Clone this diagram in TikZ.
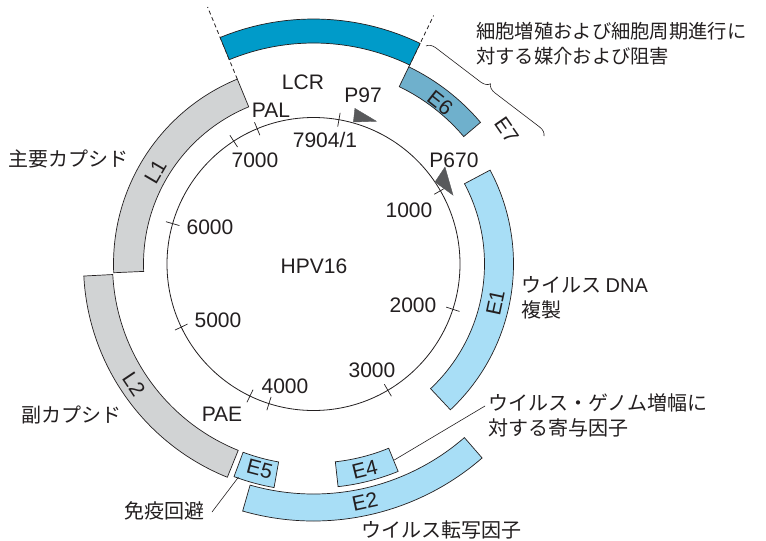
\documentclass[tikz,border=0pt]{standalone}
\usepackage{fontspec}
\setmainfont{Liberation Sans}
\newfontfamily\jp{Noto Sans CJK JP}
\usetikzlibrary{decorations.pathreplacing}
\definecolor{lcrblue}{RGB}{0,155,201}
\definecolor{esix}{RGB}{111,176,204}
\definecolor{lblue}{RGB}{168,222,246}
\definecolor{lgray}{RGB}{209,211,212}
\definecolor{tri}{RGB}{88,89,91}
\definecolor{ink}{RGB}{35,31,32}
\newcommand\genearc[5]{%
  \draw[#5] (#1:#3pt) arc[start angle=#1, end angle=#2, radius=#3pt]
    -- (#2:#4pt) arc[start angle=#2, end angle=#1, radius=#4pt] -- cycle;}
\newcommand\gtick[1]{\draw[ticks] (#1:139.5pt) -- (#1:153.5pt);}
\begin{document}
\begin{tikzpicture}[x=1pt,y=1pt,
  lat/.style={font=\fontsize{21}{24}\selectfont, text=ink, inner sep=0pt},
  jap/.style={font=\jp\fontsize{20}{25}\selectfont, text=ink, inner sep=0pt, align=left},
  gband/.style={draw=ink, line width=0.7pt, fill=#1},
  ticks/.style={draw=ink, line width=0.7pt},
  leader/.style={draw=ink, line width=0.6pt},
  cut/.style={draw=ink, line width=0.8pt, dash pattern=on 4pt off 3pt}
]
\useasboundingbox (0,0) rectangle (766,-541);
\fill[white] (0,0) rectangle (766,-541);

\begin{scope}[shift={(313.5,-264)}]
  % dashed cut lines
  \draw[cut] (112.4:200pt) -- (112.4:278pt);
  \draw[cut] (64.2:219pt) -- (64.2:276pt);
  % genome circle
  \draw[ink, line width=0.8pt] (0,0) circle[radius=146.5pt];
  % ticks
  \gtick{80}\gtick{30}\gtick{-18}\gtick{-59.5}\gtick{252.3}\gtick{244.3}
  \gtick{205.5}\gtick{164}\gtick{123}\gtick{112.6}
  % promoter arrowheads
  \filldraw[tri, line width=0.4pt] (74.3:147.5pt) -- (75.1:161pt) -- (66.2:156pt) -- cycle;
  \filldraw[tri, line width=0.4pt] (34:146.6pt) -- (36.4:163.4pt) -- (26.3:155.6pt) -- cycle;
  % gene bands
  \genearc{64.2}{112.4}{245}{221}{gband=lcrblue}
  \genearc{40.3}{64.2}{219}{197}{gband=esix}
  \genearc{112.4}{182.5}{200}{170}{gband=lgray}
  \genearc{183}{248}{230}{201}{gband=lgray}
  \genearc{249.5}{260}{227}{201}{gband=lblue}
  \genearc{276.3}{292.2}{224}{199}{gband=lblue}
  \genearc{254}{311}{257}{230}{gband=lblue}
  \genearc{-46.8}{28}{200}{171}{gband=lblue}
  % gene labels
  \node[lat, rotate=-38.3] (gE6) at (51.8:205pt) {E6};
  \node[lat, rotate=-55.3] (gE7) at (34.7:235pt) {E7};
  \node[lat, rotate=59.7] (gL1) at (149.7:183pt) {L1};
  \node[lat, rotate=-56.2] (gL2) at (213.8:216pt) {L2};
  \node[lat, rotate=-14.7] (gE5) at (255.3:212pt) {E5};
  \node[lat, rotate=14] (gE4) at (-76:212pt) {E4};
  \node[lat, rotate=12.2] (gE2) at (-77.8:243.5pt) {E2};
  \node[lat, rotate=78] (gE1) at (-12:186pt) {E1};
  % leader anchors
  \coordinate (e5a) at (250.6:226pt);
  \coordinate (e4a) at (-67.6:212pt);
\end{scope}

% E7 brace
\draw[ink, line width=0.6pt, decorate, decoration={brace, amplitude=9pt, aspect=0.5}]
  (426,-46) -- (544,-136);

% position labels
\node[lat] (lcr) at (303,-82) {LCR};
\node[lat] (p97) at (363,-95) {P97};
\node[lat] (pal) at (271,-110) {PAL};
\node[lat] (n7904) at (325,-140) {7904/1};
\node[lat] (n7000) at (255,-160) {7000};
\node[lat] (p670) at (454,-160) {P670};
\node[lat] (n1000) at (409,-210) {1000};
\node[lat] (n6000) at (210,-227) {6000};
\node[lat] (hpv) at (314,-266) {HPV16};
\node[lat] (n2000) at (413,-305) {2000};
\node[lat] (n5000) at (218,-320) {5000};
\node[lat] (n3000) at (372,-370) {3000};
\node[lat] (n4000) at (285,-386) {4000};
\node[lat] (pae) at (222,-414) {PAE};

% function labels
\node[jap, anchor=west, font=\jp\fontsize{19.3}{25}\selectfont] (fE67) at (476,-44) {細胞増殖および細胞周期進行に\\対する媒介および阻害};
\node[jap, anchor=west] (fE1) at (521,-298) {ウイルス {\fontspec{Liberation Sans}DNA}\\複製};
\node[jap, anchor=west] (fE4) at (488,-415) {ウイルス・ゲノム増幅に\\対する寄与因子};
\node[jap] (fL1) at (69,-159) {主要カプシド};
\node[jap] (fL2) at (71,-415) {副カプシド};
\node[jap] (fE5) at (164,-511) {免疫回避};
\node[jap] (fE2) at (441,-530) {ウイルス転写因子};

% leader lines
\coordinate (e5b) at (212,-512);
\coordinate (e4b) at (485,-406);
\draw[leader] (e5a) -- (e5b);
\draw[leader] (e4a) -- (e4b);
\end{tikzpicture}
\end{document}
